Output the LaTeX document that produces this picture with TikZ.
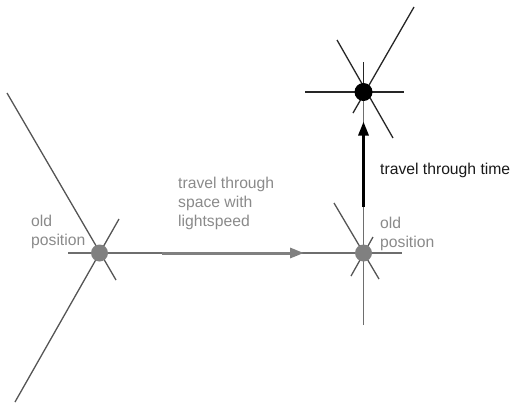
\documentclass[tikz,border=0pt]{standalone}
\usepackage{fontspec}
\setmainfont{Liberation Sans}
\usetikzlibrary{arrows.meta}
\definecolor{txtgray}{HTML}{8A8A8A}
\definecolor{dotgray}{HTML}{808080}
\definecolor{linegray}{HTML}{555555}
\definecolor{axisgray}{HTML}{6E6E6E}
\begin{document}
\begin{tikzpicture}[x=1pt,y=-1pt,
  worldline/.style={draw=linegray,line width=1.3pt},
  axis/.style={draw=axisgray,line width=1.3pt},
  newline/.style={draw=black!85,line width=1.3pt},
  posdot/.style={circle,fill=dotgray,minimum size=17pt,inner sep=0pt},
  newdot/.style={circle,fill=black,minimum size=18pt,inner sep=0pt},
  lbl/.style={inner sep=0pt,anchor=base west,font=\fontsize{15.7}{19.2}\selectfont},
  move/.style={line width=3pt,-{Triangle[length=14pt,width=10pt]}}
]
\useasboundingbox (0,0) rectangle (511,405);

% event centres
\coordinate (A) at (99.5,253);
\coordinate (B) at (363.5,253);
\coordinate (C) at (363.5,92);

% light-cone lines around the first position
\coordinate (a1) at (7,93);   \coordinate (a2) at (116,280);
\coordinate (a3) at (15,402); \coordinate (a4) at (119,219);
\coordinate (a5) at (68,253);
\draw[worldline] (a1) -- (a2);
\draw[worldline] (a3) -- (a4);
\draw[axis] (a5) -- (A) -- (B);

% lines around the second position
\coordinate (b1) at (402,253);
\coordinate (b2) at (363.5,325);
\coordinate (b3) at (334,203); \coordinate (b4) at (379,279);
\coordinate (b5) at (351,276); \coordinate (b6) at (373,237);
\draw[axis] (B) -- (b1);
\draw[axis] (b2) -- (C);
\draw[worldline] (b3) -- (b4);
\draw[worldline] (b5) -- (b6);

% lines around the new event
\coordinate (c1) at (305,92);  \coordinate (c2) at (404,92);
\coordinate (c3) at (363.5,62);
\coordinate (c4) at (337,40);  \coordinate (c5) at (393,138);
\coordinate (c6) at (353,113); \coordinate (c7) at (414,7);
\draw[newline] (c1) -- (c2);
\draw[newline] (c3) -- (C);
\draw[newline] (c4) -- (c5);
\draw[newline] (c6) -- (c7);

% travel arrows
\coordinate (s0) at (162,253); \coordinate (s1) at (304,253);
\draw[move,draw=dotgray,fill=dotgray] (s0) -- (s1);
\coordinate (t0) at (363.5,207); \coordinate (t1) at (363.5,121.5);
\draw[move,draw=black,fill=black] (t0) -- (t1);

% events
\node[posdot] (oldA) at (A) {};
\node[posdot] (oldB) at (B) {};
\node[newdot] (new) at (C) {};

% labels
\node[lbl,text=txtgray] (lblA) at (31,226)
  {\begin{tabular}[t]{@{}l@{}}old\\position\end{tabular}};
\node[lbl,text=txtgray] (lblB) at (380,228)
  {\begin{tabular}[t]{@{}l@{}}old\\position\end{tabular}};
\node[lbl,text=txtgray] (lblS) at (178,188)
  {\begin{tabular}[t]{@{}l@{}}travel through\\space with\\lightspeed\end{tabular}};
\node[lbl,text=black!90] (lblT) at (380,174) {travel through time};
\end{tikzpicture}
\end{document}
